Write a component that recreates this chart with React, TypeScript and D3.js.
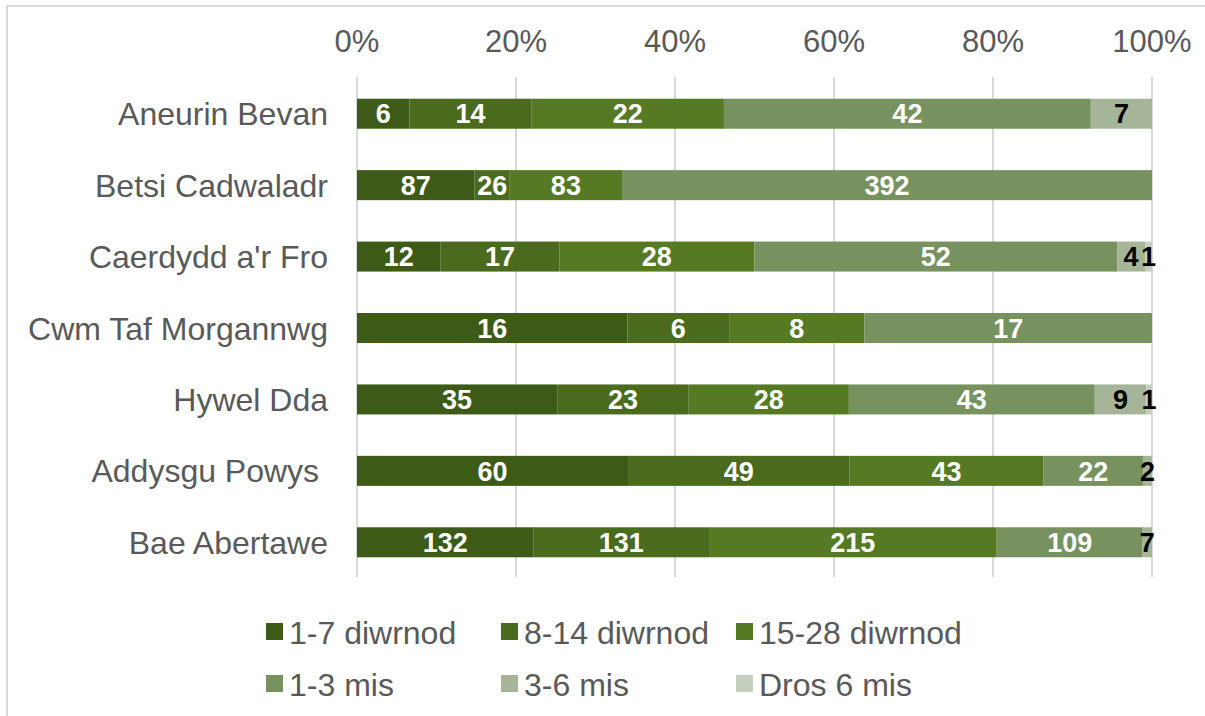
import React from "react";
import * as d3 from "d3";

const categories = [
  "Aneurin Bevan",
  "Betsi Cadwaladr",
  "Caerdydd a'r Fro",
  "Cwm Taf Morgannwg",
  "Hywel Dda",
  "Addysgu Powys ",
  "Bae Abertawe",
];

const seriesNames = ["1-7 diwrnod", "8-14 diwrnod", "15-28 diwrnod", "1-3 mis", "3-6 mis", "Dros 6 mis"];

const days1to7 = [6, 87, 12, 16, 35, 60, 132];
const days8to14 = [14, 26, 17, 6, 23, 49, 131];
const days15to28 = [22, 83, 28, 8, 28, 43, 215];
const months1to3 = [42, 392, 52, 17, 43, 22, 109];
const months3to6 = [7, 0, 4, 0, 9, 2, 7];
const over6months = [0, 0, 1, 0, 1, 0, 0];

const seriesValues = [days1to7, days8to14, days15to28, months1to3, months3to6, over6months];

const colors = ["#3d5a16", "#4a6a1e", "#557a23", "#78925f", "#a6b597", "#c6cfbe"];
const labelColors = ["#ffffff", "#ffffff", "#ffffff", "#ffffff", "#000000", "#000000"];

const tickValues = [0, 0.2, 0.4, 0.6, 0.8, 1];

const W = 1205;
const H = 716;
const FONT = "'Liberation Sans', Arial, sans-serif";

export default function App() {
  const x = d3.scaleLinear().domain([0, 1]).range([357, 1152]);
  const y = d3
    .scaleBand<string>()
    .domain(categories)
    .range([78, 578])
    .paddingInner(0.58)
    .paddingOuter(0.29);

  const rows = categories.map((c, i) => {
    const vals = seriesValues.map((s) => s[i]);
    const total = d3.sum(vals);
    let acc = 0;
    const segs = vals.map((v, k) => {
      const x0 = acc / total;
      acc += v;
      const x1 = acc / total;
      return { v, k, x0, x1 };
    });
    return { c, segs };
  });

  const fmt = d3.format(".0%");

  const legendCols = [266, 501, 736];
  const legendRows = [632, 684];

  return (
    <svg
      width={W}
      height={H}
      style={{ position: "absolute", left: 0, top: 0, fontFamily: FONT }}
    >
      <rect x={0} y={0} width={W} height={H} fill="#ffffff" />
      <rect x={7} y={6} width={W + 20} height={H + 20} fill="none" stroke="#d9d9d9" strokeWidth={2} />

      {tickValues.map((t) => (
        <g key={t}>
          <line x1={x(t)} x2={x(t)} y1={77} y2={577} stroke="#d9d9d9" strokeWidth={2} />
          <text x={x(t)} y={52} textAnchor="middle" fontSize={31} fill="#595959">
            {fmt(t)}
          </text>
        </g>
      ))}

      {rows.map((r) => {
        const y0 = y(r.c)!;
        const bw = y.bandwidth();
        return (
          <g key={r.c}>
            <text
              x={328}
              y={y0 + bw / 2}
              dy="0.36em"
              textAnchor="end"
              fontSize={32}
              fill="#595959"
              style={{ whiteSpace: "pre" }}
            >
              {r.c}
            </text>
            {r.segs.map((s) =>
              s.v > 0 ? (
                <rect
                  key={"r" + s.k}
                  x={x(s.x0)}
                  y={y0}
                  width={x(s.x1) - x(s.x0)}
                  height={bw}
                  fill={colors[s.k]}
                />
              ) : null
            )}
            {r.segs.map((s) =>
              s.v > 0 ? (
                <text
                  key={"t" + s.k}
                  x={(x(s.x0) + x(s.x1)) / 2}
                  y={y0 + bw / 2}
                  dy="0.36em"
                  textAnchor="middle"
                  fontSize={27}
                  fontWeight="bold"
                  fill={labelColors[s.k]}
                >
                  {s.v}
                </text>
              ) : null
            )}
          </g>
        );
      })}

      {seriesNames.map((name, i) => {
        const lx = legendCols[i % 3];
        const ly = legendRows[Math.floor(i / 3)];
        return (
          <g key={name}>
            <rect x={lx} y={ly - 9} width={17} height={17} fill={colors[i]} />
            <text x={lx + 23} y={ly} dy="0.36em" fontSize={32} fill="#595959">
              {name}
            </text>
          </g>
        );
      })}
    </svg>
  );
}
